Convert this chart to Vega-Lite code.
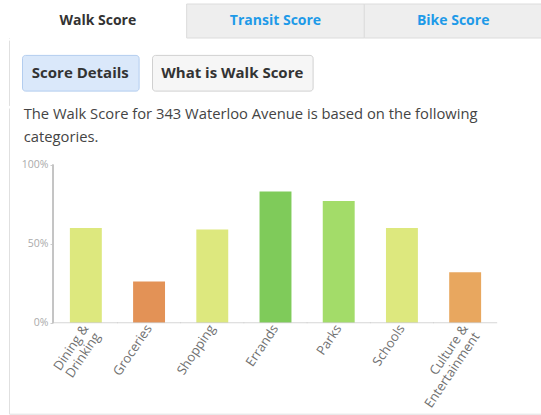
{
  "$schema": "https://vega.github.io/schema/vega-lite/v6.json",
  "padding": {"left": 8, "top": 3, "right": 0, "bottom": 1},
  "background": "white",
  "spacing": 0,
  "align": "none",
  "bounds": "full",
  "config": {
    "font": "Open Sans",
    "view": {"stroke": null}
  },
  "datasets": {
    "scores": [
      {"category": "Dining & Drinking", "score": 60},
      {"category": "Groceries", "score": 26},
      {"category": "Shopping", "score": 59},
      {"category": "Errands", "score": 83},
      {"category": "Parks", "score": 77},
      {"category": "Schools", "score": 60},
      {"category": "Culture & Entertainment", "score": 32}
    ],
    "tabs": [
      {"tab": "Walk Score"},
      {"tab": "Transit Score"},
      {"tab": "Bike Score"}
    ],
    "button1": [{"label": "Score Details"}],
    "button2": [{"label": "What is Walk Score"}]
  },
  "vconcat": [
    {
      "width": 533,
      "height": 34,
      "view": {"stroke": "#e0e0e0", "strokeWidth": 1, "strokeDash": [533, 567, 34]},
      "data": {"name": "tabs"},
      "encoding": {
        "x": {"field": "tab", "type": "nominal", "sort": null, "axis": null,
              "scale": {"type": "band", "paddingInner": 0, "paddingOuter": 0}}
      },
      "layer": [
        {
          "mark": {"type": "rect", "stroke": "#dcdcdc", "strokeWidth": 1},
          "encoding": {
            "fill": {"condition": {"test": "datum.tab == 'Walk Score'", "value": "#ffffff"}, "value": "#eeeeee"},
            "strokeOpacity": {"condition": {"test": "datum.tab == 'Walk Score'", "value": 0}, "value": 1}
          }
        },
        {
          "mark": {"type": "text", "fontSize": 14, "fontWeight": "bold", "font": "Open Sans"},
          "encoding": {
            "text": {"field": "tab"},
            "color": {"condition": {"test": "datum.tab == 'Walk Score'", "value": "#333333"}, "value": "#1e9ae8"}
          }
        }
      ]
    },
    {
      "hconcat": [
        {
          "width": 0.3,
          "height": 65.3,
          "view": {"stroke": "#e0e0e0", "strokeWidth": 1, "strokeDash": [0, 65.9, 65.3]},
          "data": {"name": "button1"},
          "mark": {"type": "text"},
          "encoding": {"text": {"value": ""}}
        },
        {
          "width": 116.6,
          "height": 35.7,
          "view": {"fill": "#dae8fa", "stroke": "#b3cdef", "strokeWidth": 1, "cornerRadius": 3},
          "data": {"name": "button1"},
          "mark": {"type": "text", "fontSize": 15, "fontWeight": "bold", "font": "Open Sans", "color": "#333333"},
          "encoding": {"text": {"field": "label"}}
        },
        {
          "width": 160.6,
          "height": 35.7,
          "view": {"fill": "#f6f6f6", "stroke": "#d0d0d0", "strokeWidth": 1, "cornerRadius": 3},
          "data": {"name": "button2"},
          "mark": {"type": "text", "fontSize": 15, "fontWeight": "bold", "font": "Open Sans", "color": "#333333"},
          "encoding": {"text": {"field": "label"}}
        }
      ],
      "spacing": 11,
      "center": true
    },
    {
      "width": 533,
      "height": 305.7,
      "view": {"stroke": "#e0e0e0", "strokeWidth": 1, "strokeDash": [0, 838.7, 838.7]},
      "title": {
        "text": ["The Walk Score for 343 Waterloo Avenue is based on the following", "categories."],
        "anchor": "start",
        "frame": "bounds",
        "offset": -36.45,
        "dx": 14.7,
        "fontSize": 14.75,
        "fontWeight": "normal",
        "font": "Open Sans",
        "color": "#444444",
        "lineHeight": 23
      },
      "data": {"name": "scores"},
      "layer": [
        {
          "mark": {"type": "bar"},
          "encoding": {
            "x": {"field": "category", "type": "nominal", "sort": null,
                  "scale": {"type": "band", "paddingInner": 0.495, "paddingOuter": 0.963},
                  "axis": {
                    "orient": "bottom", "offset": -91, "domain": false, "ticks": false,
                    "labelAngle": -56, "labelFontSize": 13, "labelColor": "#707070", "labelFont": "Open Sans",
                    "labelPadding": 3, "labelOverlap": false, "labelLimit": 0, "labelLineHeight": 14,
                    "labelExpr": "indexof(datum.label, ' & ') > 0 ? [slice(datum.label, 0, indexof(datum.label, ' & ') + 2), slice(datum.label, indexof(datum.label, ' & ') + 3)] : datum.label",
                    "title": null
                  }},
            "y": {"field": "score", "type": "quantitative",
                  "scale": {"domain": [-57.6, 135.9], "nice": false, "zero": false},
                  "axis": {
                    "orient": "left", "offset": -44, "domain": false, "grid": false,
                    "values": [0, 50, 100], "labelExpr": "datum.value + '%'",
                    "tickSize": 3, "tickColor": "#cccccc", "labelColor": "#aaaaaa",
                    "labelFontSize": 10.5, "labelFont": "Open Sans", "labelPadding": 2, "title": null
                  }},
            "color": {"field": "category", "type": "nominal", "legend": null,
                      "scale": {
                        "domain": ["Dining & Drinking", "Groceries", "Shopping", "Errands", "Parks", "Schools", "Culture & Entertainment"],
                        "range": ["#dde87e", "#e39256", "#dde87e", "#7fcb5a", "#a3dc69", "#dde87e", "#e8a75f"]
                      }}
          }
        },
        {
          "mark": {"type": "tick", "size": 64, "thickness": 1, "color": "#c4c4c4"},
          "encoding": {
            "x": {"field": "category", "type": "nominal", "sort": null},
            "y": {"datum": 0}
          }
        },
        {
          "mark": {"type": "rule", "color": "#c4c4c4", "strokeWidth": 1},
          "encoding": {
            "x": {"datum": "Dining & Drinking", "bandPosition": -0.529},
            "y": {"datum": 0},
            "y2": {"datum": 100}
          }
        }
      ]
    }
  ]
}
